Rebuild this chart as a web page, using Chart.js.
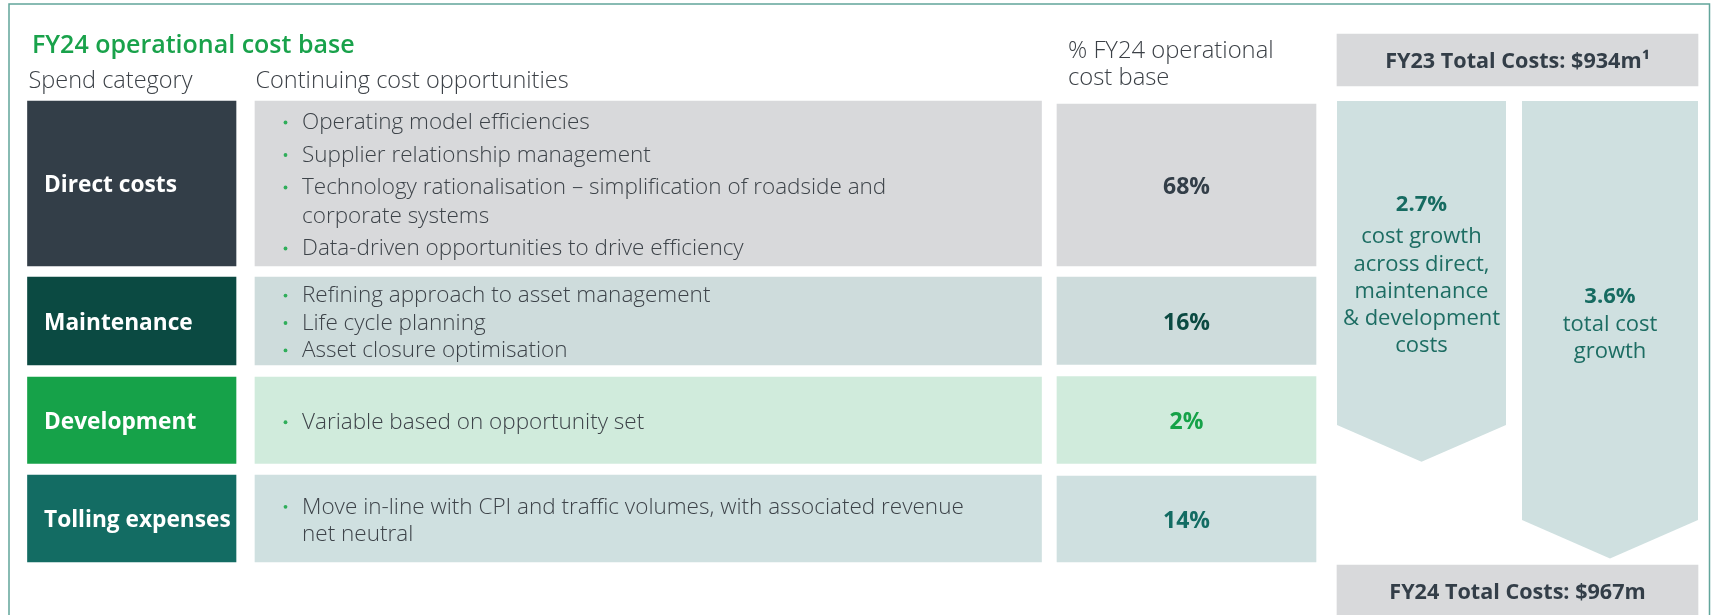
<!DOCTYPE html>
<html>
<head>
<meta charset="utf-8">
<script src="https://cdn.jsdelivr.net/npm/chart.js@4.4.1/dist/chart.umd.min.js"></script>
<style>
  html, body { margin: 0; padding: 0; background: #ffffff; }
  #wrap { position: relative; width: 1711px; height: 615px; }
</style>
</head>
<body>
<div id="wrap"><canvas id="c"></canvas></div>
<script>
// ---------------- data ----------------
const title = 'FY24 operational cost base';
const columnHeaders = ['Spend category', 'Continuing cost opportunities', '% FY24 operational\ncost base'];
const categories = ['Direct costs', 'Maintenance', 'Development', 'Tolling expenses'];
const shareOfCostBase = [68, 16, 2, 14];               // % of FY24 operational cost base
const opportunities = [
  ['Operating model efficiencies',
   'Supplier relationship management',
   'Technology rationalisation \u2013 simplification of roadside and\ncorporate systems',
   'Data-driven opportunities to drive efficiency'],
  ['Refining approach to asset management',
   'Life cycle planning',
   'Asset closure optimisation'],
  ['Variable based on opportunity set'],
  ['Move in-line with CPI and traffic volumes, with associated revenue\nnet neutral']
];
const totalYears = ['FY23', 'FY24'];
const totalCosts = [934, 967];                          // $m
const totalFootnotes = ['\u00b9', ''];
const growthRates = [2.7, 3.6];                         // %
const growthDescriptions = [
  ['cost growth', 'across direct,', 'maintenance', '& development', 'costs'],
  ['total cost', 'growth']
];

// ---------------- layout (scale units; 1 unit = 1 px) ----------------
const W = 1711, H = 615;
const rowSpans = [[101, 266], [277, 365], [377, 463.5], [475, 562]];
const pctSpans = [[104, 266], [277, 364.5], [376.5, 463.5], [476, 562]];
const colCat = [27.5, 236], colText = [255, 1041.5], colPct = [1057, 1316];
const totalsCol = [1337, 1698];
const totalsBoxCenters = [60, 591];
const totalsBoxHeight = 52;
const arrows = [
  { x0: 1337, x1: 1506, top: 101, shoulder: 425, tip: 461.7 },
  { x0: 1522, x1: 1698, top: 101, shoulder: 520, tip: 558.5 }
];
const frame = { left: 9, top: 4, right: 1709.5, bottom: 660 };

// ---------------- styles ----------------
const FONT = '"Open Sans", "Noto Sans", sans-serif';
const TEXT_SHIFT = 2.4;   // optical correction for 'middle' baseline
const catColors  = ['#333e48', '#0b4a42', '#16a249', '#136c63'];
const cellColors = ['#d8d9db', '#cedcdc', '#d0ebdc', '#cfe0e0'];
const pctColors  = ['#333e48', '#0b4a42', '#16a249', '#136c63'];
const rowText = [{ lh: 28.5, gap: 4 }, { lh: 27.4, gap: 0 }, { lh: 27.4, gap: 0 }, { lh: 27.4, gap: 0 }];
const arrowText = [{ head: 202, body: 234.6, lh: 27.3 }, { head: 294.6, body: 322, lh: 27.3 }];

// ---------------- datasets ----------------
const datasets = [];

// table rows: category cell + opportunities cell (floating horizontal bars)
rowSpans.forEach((r, i) => {
  const mid = (r[0] + r[1]) / 2;
  datasets.push({
    type: 'bar', indexAxis: 'y', grouped: false,
    barThickness: r[1] - r[0],
    data: [{ y: mid, x: colCat }, { y: mid, x: colText }],
    backgroundColor: [catColors[i], cellColors[i]],
    borderWidth: 0, borderSkipped: false
  });
});
// share-of-base cells
pctSpans.forEach((r, i) => {
  datasets.push({
    type: 'bar', indexAxis: 'y', grouped: false,
    barThickness: r[1] - r[0],
    data: [{ y: (r[0] + r[1]) / 2, x: colPct }],
    backgroundColor: cellColors[i],
    borderWidth: 0, borderSkipped: false
  });
});

// totals boxes
datasets.push({
  type: 'bar', indexAxis: 'y', grouped: false,
  barThickness: totalsBoxHeight,
  data: totalsBoxCenters.map(c => ({ y: c, x: totalsCol })),
  backgroundColor: '#d8d9db', borderWidth: 0, borderSkipped: false
});

// growth arrows (line filled up to the arrow top)
arrows.forEach(a => {
  datasets.push({
    type: 'line', indexAxis: 'x',
    data: [{ x: a.x0, y: a.shoulder }, { x: (a.x0 + a.x1) / 2, y: a.tip }, { x: a.x1, y: a.shoulder }],
    fill: { value: a.top },
    backgroundColor: '#cfe0e0', borderColor: '#cfe0e0', borderWidth: 0,
    pointRadius: 0, tension: 0
  });
});

// outer frame
datasets.push({
  type: 'line', indexAxis: 'x',
  data: [{ x: frame.left, y: frame.bottom }, { x: frame.left, y: frame.top },
         { x: frame.right, y: frame.top }, { x: frame.right, y: frame.bottom }],
  fill: false, borderColor: '#62a59b', borderWidth: 1.5, pointRadius: 0, tension: 0
});

// ---------------- text plugin ----------------
const textPlugin = {
  id: 'texts',
  afterDatasetsDraw(chart) {
    const { ctx } = chart;
    const xs = chart.scales.x, ys = chart.scales.y;
    const X = v => xs.getPixelForValue(v), Y = v => ys.getPixelForValue(v);
    ctx.save();
    ctx.textBaseline = 'middle';
    const txt = (s, xv, yv, font, color, align) => {
      ctx.font = font; ctx.fillStyle = color; ctx.textAlign = align || 'left';
      ctx.fillText(s, X(xv), Y(yv) + TEXT_SHIFT);
    };

    // title + headers
    txt(title, 32, 43.5, '600 25px ' + FONT, '#19a24b');
    txt(columnHeaders[0], 28.5, 78.5, '300 23.5px ' + FONT, '#3b4046');
    txt(columnHeaders[1], 255.5, 78.5, '300 23.5px ' + FONT, '#3b4046');
    columnHeaders[2].split('\n').forEach((l, k) => txt(l, 1068, 49 + k * 27, '300 23.8px ' + FONT, '#3b4046'));

    // rows
    rowSpans.forEach((r, i) => {
      const mid = (r[0] + r[1]) / 2;
      txt(categories[i], 44, mid, 'bold 22.7px ' + FONT, '#ffffff');
      const pm = (pctSpans[i][0] + pctSpans[i][1]) / 2;
      txt(shareOfCostBase[i] + '%', (colPct[0] + colPct[1]) / 2, pm, 'bold 23px ' + FONT, pctColors[i], 'center');

      const st = rowText[i];
      const items = opportunities[i].map(s => s.split('\n'));
      const nLines = items.reduce((a, b) => a + b.length, 0);
      const total = (nLines - 1) * st.lh + (items.length - 1) * st.gap;
      let yy = mid - total / 2;
      items.forEach((lines) => {
        ctx.fillStyle = '#2fae5a';
        ctx.beginPath(); ctx.arc(X(285.5), Y(yy) + 2, 1.9, 0, Math.PI * 2); ctx.fill();
        lines.forEach(l => { txt(l, 302, yy, '300 22.5px ' + FONT, '#3d4349'); yy += st.lh; });
        yy += st.gap;
      });
    });

    // totals
    const tcx = (totalsCol[0] + totalsCol[1]) / 2;
    totalYears.forEach((yr, i) => {
      txt(yr + ' Total Costs: $' + totalCosts[i] + 'm' + totalFootnotes[i], tcx, totalsBoxCenters[i] - 0.5, 'bold 21.6px ' + FONT, '#333e48', 'center');
    });

    // growth arrows text
    arrows.forEach((a, i) => {
      const cx = (a.x0 + a.x1) / 2;
      const st = arrowText[i];
      txt(growthRates[i].toFixed(1) + '%', cx, st.head, 'bold 22px ' + FONT, '#166b61', 'center');
      growthDescriptions[i].forEach((l, k) => txt(l, cx, st.body + k * st.lh, '22px ' + FONT, '#1d6d63', 'center'));
    });
    ctx.restore();
  }
};

new Chart(document.getElementById('c'), {
  type: 'bar',
  data: { datasets },
  options: {
    responsive: true,
    maintainAspectRatio: false,
    animation: false,
    indexAxis: 'y',
    layout: { padding: 0 },
    plugins: { legend: { display: false }, tooltip: { enabled: false }, title: { display: false } },
    scales: {
      x: { type: 'linear', min: 0, max: W, display: false, offset: false },
      y: { type: 'linear', min: 0, max: H, reverse: true, display: false, offset: false }
    }
  },
  plugins: [textPlugin]
});
</script>
</body>
</html>
